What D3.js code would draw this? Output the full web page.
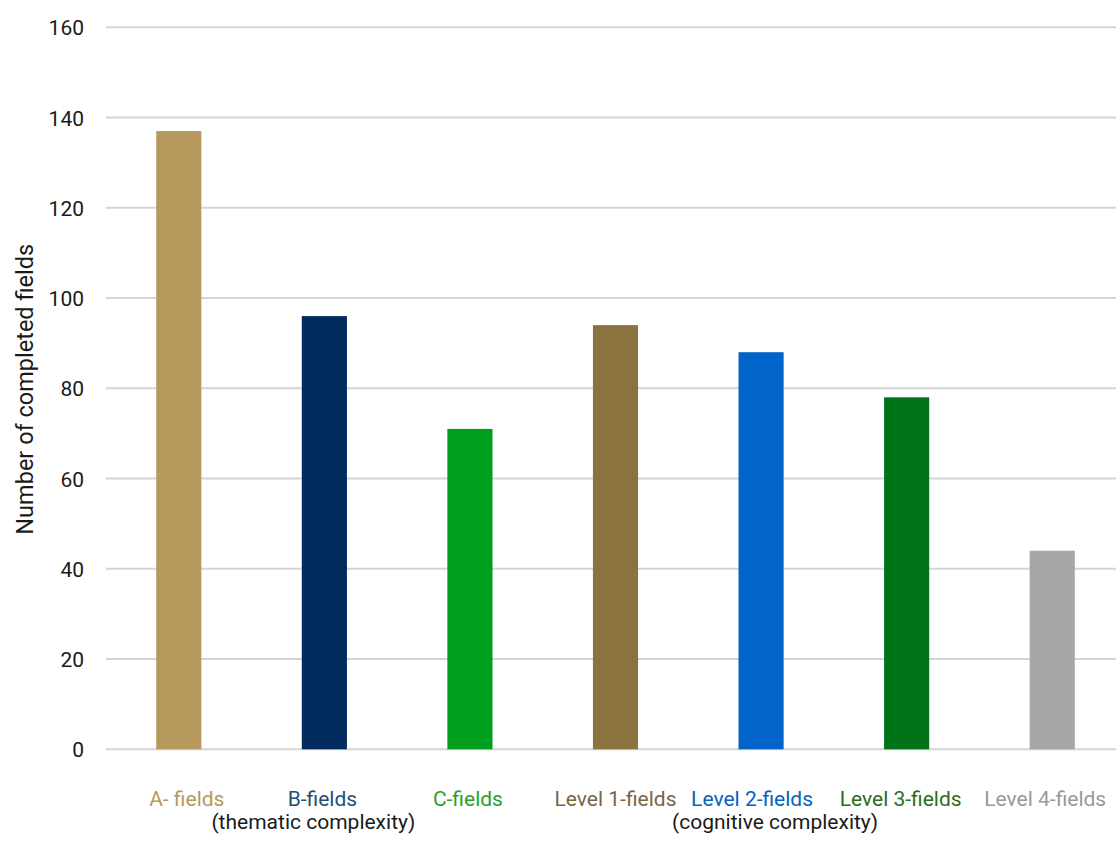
<!DOCTYPE html>
<html>
<head>
<meta charset="utf-8">
<script src="https://cdn.jsdelivr.net/npm/d3@7"></script>
<style>
  html, body { margin: 0; padding: 0; background: #ffffff; }
  svg { display: block; }
  text { font-family: Roboto, "Noto Sans", sans-serif; }
</style>
</head>
<body>
<svg id="chart" width="1116" height="841"></svg>
<script>
// Completed fields by thematic level (A–C) and cognitive level (1–4)
const categories = ["A- fields", "B-fields", "C-fields", "Level 1-fields", "Level 2-fields", "Level 3-fields", "Level 4-fields"];
const completed = [137, 96, 71, 94, 88, 78, 44];
const barColors = ["#b7985d", "#002b5c", "#009e1f", "#8b7340", "#0064c8", "#007316", "#a6a6a6"];
const labelColors = ["#b7985d", "#1f4e79", "#2ca02c", "#7a6545", "#0563c1", "#2e6b22", "#999999"];
const yTicks = [0, 20, 40, 60, 80, 100, 120, 140, 160];
const groupLabels = [
  { text: "(thematic complexity)", under: "B-fields" },
  { text: "(cognitive complexity)", under: "Level 2-fields" }
];

const svg = d3.select("#chart");

const y = d3.scaleLinear().domain([0, 160]).range([749.3, 27.3]);
const x = d3.scaleBand()
  .domain(categories)
  .range([106, 1125])
  .paddingInner(0.69)
  .paddingOuter(0.345);
const center = d => x(d) + x.bandwidth() / 2;

// small horizontal nudges for the axis text
const categoryNudge = { "A- fields": 8, "B-fields": -2, "C-fields": -2, "Level 2-fields": -9, "Level 3-fields": -6, "Level 4-fields": -7 };
const groupNudge = { "B-fields": -11, "Level 2-fields": 14 };

// horizontal gridlines
svg.append("g")
  .selectAll("line")
  .data(yTicks)
  .join("line")
  .attr("x1", 106)
  .attr("x2", 1116)
  .attr("y1", d => y(d))
  .attr("y2", d => y(d))
  .attr("stroke", "#d4d4d4")
  .attr("stroke-width", 2);

// y tick labels
const yAxis = d3.axisLeft(y).tickValues(yTicks).tickSize(0).tickPadding(0);
const yg = svg.append("g").attr("transform", "translate(84,0)").call(yAxis);
yg.select(".domain").remove();
yg.selectAll("text")
  .attr("font-family", "Roboto, sans-serif")
  .attr("font-size", 21)
  .attr("fill", "#1a1a1a")
  .attr("dy", "0.36em");

// bars (drawn over the gridlines)
svg.append("g")
  .selectAll("rect")
  .data(categories)
  .join("rect")
  .attr("x", d => x(d))
  .attr("width", x.bandwidth())
  .attr("y", (d, i) => y(completed[i]))
  .attr("height", (d, i) => y(0) - y(completed[i]))
  .attr("fill", (d, i) => barColors[i]);

// category labels
svg.append("g")
  .selectAll("text")
  .data(categories)
  .join("text")
  .attr("x", d => center(d) + (categoryNudge[d] || 0))
  .attr("y", 806)
  .attr("text-anchor", "middle")
  .attr("font-size", 21)
  .attr("fill", (d, i) => labelColors[i])
  .text(d => d);

// group captions under the category row
svg.append("g")
  .selectAll("text")
  .data(groupLabels)
  .join("text")
  .attr("x", d => center(d.under) + (groupNudge[d.under] || 0))
  .attr("y", 829)
  .attr("text-anchor", "middle")
  .attr("font-size", 21)
  .attr("fill", "#1a1a1a")
  .text(d => d.text);

// y-axis title
svg.append("text")
  .attr("transform", "translate(33," + ((y(0) + y(160)) / 2 + 1) + ") rotate(-90)")
  .attr("text-anchor", "middle")
  .attr("font-size", 23.5)
  .attr("fill", "#1a1a1a")
  .text("Number of completed fields");
</script>
</body>
</html>
